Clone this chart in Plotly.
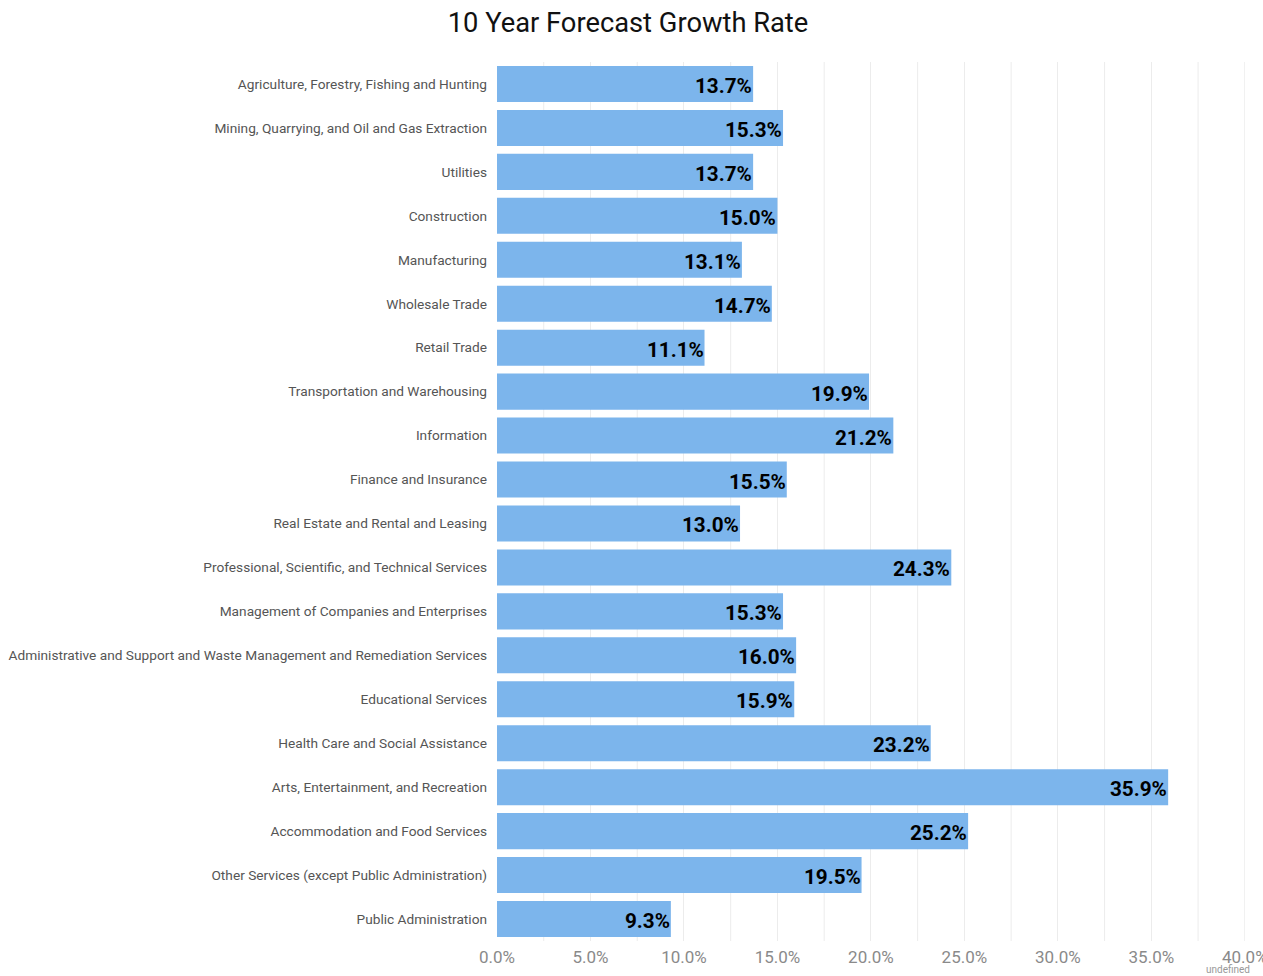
import plotly.graph_objects as go

categories = [
    "Agriculture, Forestry, Fishing and Hunting",
    "Mining, Quarrying, and Oil and Gas Extraction",
    "Utilities",
    "Construction",
    "Manufacturing",
    "Wholesale Trade",
    "Retail Trade",
    "Transportation and Warehousing",
    "Information",
    "Finance and Insurance",
    "Real Estate and Rental and Leasing",
    "Professional, Scientific, and Technical Services",
    "Management of Companies and Enterprises",
    "Administrative and Support and Waste Management and Remediation Services",
    "Educational Services",
    "Health Care and Social Assistance",
    "Arts, Entertainment, and Recreation",
    "Accommodation and Food Services",
    "Other Services (except Public Administration)",
    "Public Administration",
]
growth = [13.7, 15.3, 13.7, 15.0, 13.1, 14.7, 11.1, 19.9, 21.2, 15.5,
          13.0, 24.3, 15.3, 16.0, 15.9, 23.2, 35.9, 25.2, 19.5, 9.3]
tick_vals = [0, 5, 10, 15, 20, 25, 30, 35, 40]
tick_text = ["0.0%", "5.0%", "10.0%", "15.0%", "20.0%", "25.0%", "30.0%", "35.0%", "40.0%"]
minor_grid = [2.5, 7.5, 12.5, 17.5, 22.5, 27.5, 32.5, 37.5, 40]

W, H = 1263, 976
L, R, T, B = 497, 18, 62, 35
plot_h = H - T - B

fig = go.Figure()
fig.add_trace(go.Bar(
    x=growth, y=categories, orientation="h",
    marker=dict(color="#7cb5ec", line=dict(width=0)),
    hoverinfo="skip",
))

# value labels, right-aligned at bar ends
annotations = []
for cat, v in zip(categories, growth):
    annotations.append(dict(
        x=v, y=cat, xref="x", yref="y", text=f"{v:.1f}%",
        xanchor="right", yanchor="middle", showarrow=False, xshift=1, yshift=-2,
        font=dict(family="Roboto", size=20.7, color="#000000", weight="bold"),
    ))

annotations.append(dict(
    text="undefined", xref="paper", yref="paper", x=(W - 11 - L) / (W - L - R),
    y=-(970 - (H - B)) / plot_h, xanchor="right", yanchor="middle", showarrow=False,
    font=dict(family="Roboto", size=10, color="#999999"),
))

# gridlines between major ticks and at the right edge
for v in minor_grid:
    fig.add_shape(type="line", xref="x", yref="paper", x0=v, x1=v, y0=0, y1=1,
                  line=dict(color="#ececec", width=1), layer="below")

fig.update_layout(
    width=W, height=H,
    margin=dict(l=L, r=R, t=T, b=B, autoexpand=False),
    paper_bgcolor="white", plot_bgcolor="white",
    title=dict(text="10 Year Forecast Growth Rate", x=628 / W, xanchor="center",
               y=1 - 22 / H, yanchor="middle", xref="container", yref="container",
               font=dict(family="Roboto", size=27.3, color="#111111")),
    bargap=0.18,
    showlegend=False,
    font=dict(family="Roboto"),
    xaxis=dict(range=[0, 40.01], tickvals=tick_vals, ticktext=tick_text,
               tickfont=dict(family="Roboto", size=17, color="#8a8a8a"),
               showgrid=True, gridcolor="#ececec", gridwidth=1,
               zeroline=False, showline=False, ticks="", ticklabelstandoff=4,
               ticklabeloverflow="allow", automargin=False, fixedrange=True),
    yaxis=dict(autorange="reversed", tickfont=dict(family="Roboto", size=13.7, color="#555555"),
               showgrid=False, zeroline=False, showline=False, ticks="",
               ticklabelstandoff=9, automargin=False, fixedrange=True),
    annotations=annotations,
)

fig.write_html(
    "out.html",
    config={"displayModeBar": False},
    post_script="document.body.style.margin='0';document.body.style.overflow='hidden';",
)
